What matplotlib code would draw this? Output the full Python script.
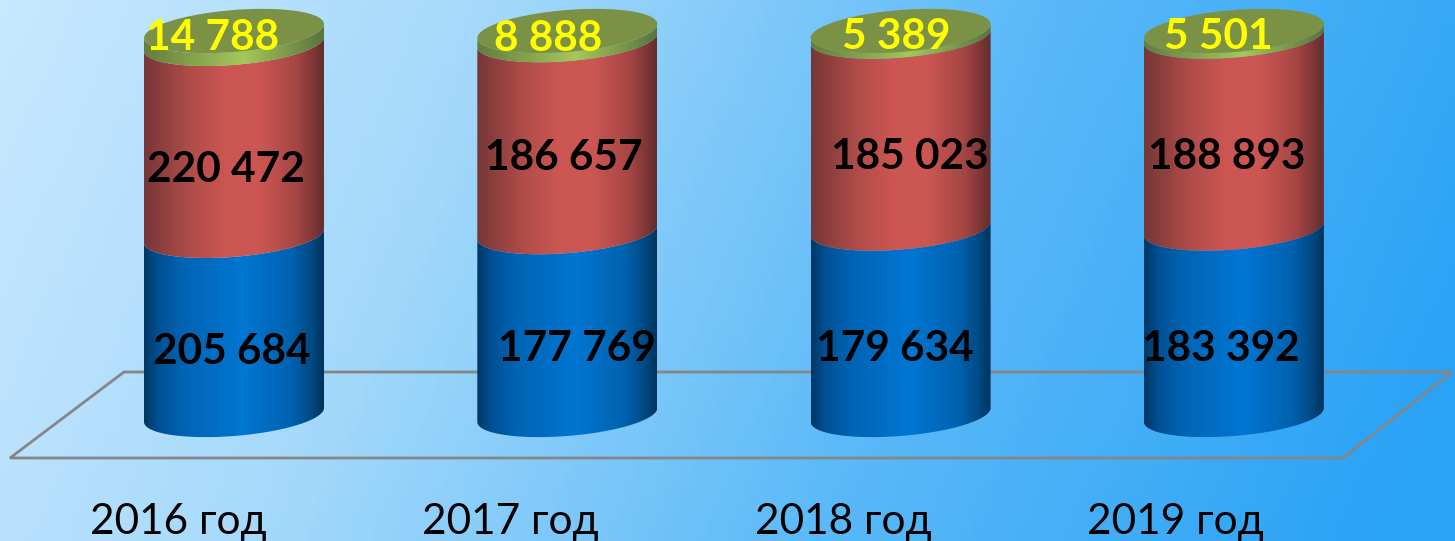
import numpy as np
import matplotlib.pyplot as plt
from matplotlib.colors import LinearSegmentedColormap
from matplotlib.patches import PathPatch, Polygon
from matplotlib.path import Path

years = ["2016 год", "2017 год", "2018 год", "2019 год"]
blue_vals = [205684, 177769, 179634, 183392]
red_vals = [220472, 186657, 185023, 188893]
green_vals = [14788, 8888, 5389, 5501]

W, H = 1455, 541
FONT = ["Lato", "Noto Sans", "DejaVu Sans"]

# label centres in picture pixels, they were placed by hand in the original
blue_pos = [(232, 352), (577, 349), (895, 349), (1221, 349)]
red_pos = [(226, 170), (564, 158), (910, 157), (1227, 157)]
green_pos = [(213, 38), (548, 39), (896, 37), (1218, 37)]
year_x = [178, 510, 843, 1175]


def to_rgb(*c):
    return tuple(v / 255 for v in c)


def make_cmap(stops):
    return LinearSegmentedColormap.from_list("c", [(p, to_rgb(*c)) for p, c in stops])


blue_cmap = make_cmap([(0, (0, 55, 100)), (0.08, (0, 80, 148)), (0.22, (0, 100, 180)), (0.55, (0, 118, 210)),
                       (0.82, (0, 98, 175)), (0.94, (0, 72, 128)), (1, (0, 50, 92))])
red_cmap = make_cmap([(0, (118, 55, 55)), (0.25, (175, 76, 73)), (0.45, (203, 86, 82)), (0.65, (203, 86, 82)),
                      (0.85, (165, 70, 68)), (1, (100, 45, 45))])
green_cmap = make_cmap([(0, (100, 125, 60)), (0.55, (165, 200, 90)), (1, (90, 115, 60))])

fig = plt.figure(figsize=(W / 100, H / 100), dpi=100)
ax = fig.add_axes([0, 0, 1, 1])
ax.axis("off")

xlim = (-234 / 333.3, (W - 234) / 333.3)
ylim = ((415 - H) / 3.84, 415 / 3.84)


def fpx(x, y):
    return x / W, 1 - y / H


# background
yy, xx = np.mgrid[0:1:60j, 0:1:160j]
t = np.clip(0.9 * xx + 0.14 * yy, 0, 1)
bg = make_cmap([(0, (200, 232, 254)), (0.3, (165, 217, 251)), (0.65, (90, 185, 248)), (1, (42, 162, 246))])
ax.imshow(bg(t), extent=(*xlim, *ylim), origin="upper", aspect="auto", zorder=0)

# floor
floor = [(124, 372), (1452, 372), (1343, 458), (10, 458)]
ax.add_patch(Polygon([fpx(*p) for p in floor], closed=True, fill=False, ec="#868686",
                     lw=2, transform=fig.transFigure, zorder=1))

half_w = 0.27
rim_b = 5.47
rim_tilt = 1.82
ramp = np.linspace(0, 1, 256).reshape(1, -1)


def rim(i, y0, t0, t1):
    a = np.linspace(t0, t1, 80)
    return np.column_stack([i + half_w * np.cos(a), y0 + rim_tilt * np.cos(a) + rim_b * np.sin(a)])


def segment(i, y0, y1, cmap, z):
    pts = np.vstack([rim(i, y0, np.pi, 2 * np.pi), rim(i, y1, 2 * np.pi, np.pi)])
    im = ax.imshow(ramp, cmap=cmap, extent=(i - half_w, i + half_w, y0 - 10, y1 + 10),
                   aspect="auto", zorder=z)
    im.set_clip_path(PathPatch(Path(pts), transform=ax.transData))


for i in range(len(years)):
    total = blue_vals[i] + red_vals[i] + green_vals[i]
    b = 100 * blue_vals[i] / total
    r = 100 * red_vals[i] / total
    segment(i, 0, b, blue_cmap, 2)
    segment(i, b, b + r, red_cmap, 3)
    segment(i, b + r, 100, green_cmap, 4)
    ax.fill(*rim(i, 100, 0, 2 * np.pi).T, color="#7a9146", lw=0, zorder=5)

ax.set_xlim(*xlim)
ax.set_ylim(*ylim)


def fmt(v):
    return f"{v:,}".replace(",", " ")


for vals, pos, col in [(blue_vals, blue_pos, "black"), (red_vals, red_pos, "black"), (green_vals, green_pos, "#ffff00")]:
    for v, p in zip(vals, pos):
        x, y = fpx(*p)
        fig.text(x, y, fmt(v), color=col, fontsize=30.5, fontweight="bold", family=FONT,
                 ha="center", va="center", zorder=10)

for x, name in zip(year_x, years):
    fx, fy = fpx(x, 534)
    fig.text(fx, fy, name, color="black", fontsize=30.5, family=FONT, ha="center", va="baseline")

fig.savefig("out.png", dpi=100)
